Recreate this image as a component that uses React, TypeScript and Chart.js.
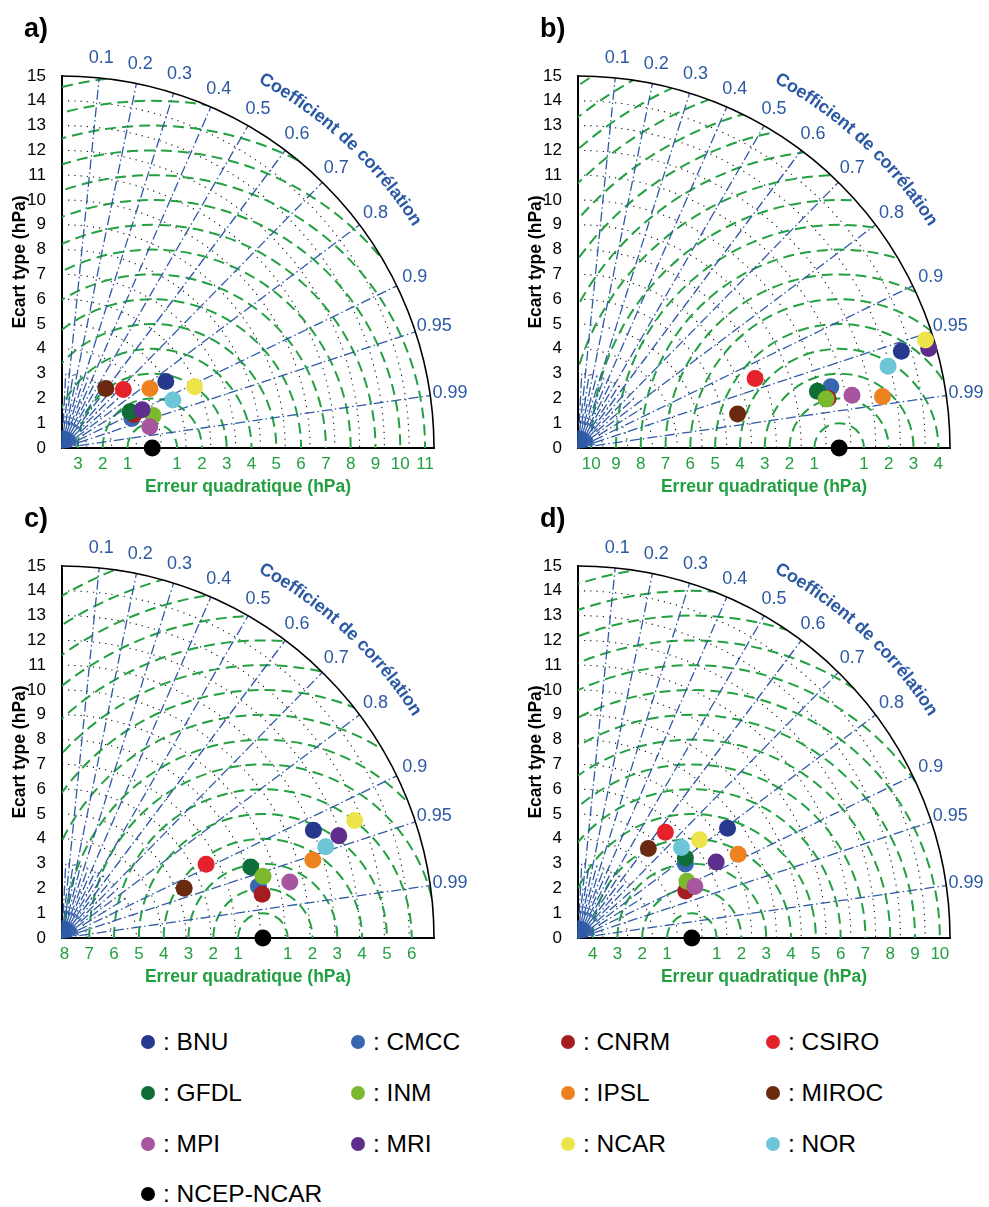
import React, { useEffect, useRef } from "react";
import { Chart, registerables } from "chart.js";

Chart.register(...registerables);
Chart.defaults.font.family = "'Liberation Sans', Arial, Helvetica, sans-serif";

// ---------- data ----------
const MODELS = ["BNU", "CMCC", "CNRM", "CSIRO", "GFDL", "INM", "IPSL", "MIROC", "MPI", "MRI", "NCAR", "NOR"];
const COLORS = ["#27398c", "#3767b1", "#a31d21", "#e5222b", "#0f6e38", "#7bb92f", "#ef8220", "#6b2a10", "#a8559f", "#5d2e8c", "#ece44a", "#6cc6d8"];
const REF_NAME = "NCEP-NCAR";
const REF_COLOR = "#000000";

const PANEL_LABELS = ["a)", "b)", "c)", "d)"];

// standard deviation (hPa) and correlation with NCEP-NCAR, per model
const STD_A = [4.97, 3.06, 3.20, 3.42, 3.11, 3.90, 4.28, 2.98, 3.64, 3.58, 5.89, 4.87];
const CORR_A = [0.842, 0.921, 0.907, 0.723, 0.882, 0.942, 0.828, 0.594, 0.972, 0.902, 0.908, 0.918];
const REF_STD_A = 3.64;

const STD_B = [13.61, 10.49, 10.28, 7.67, 9.92, 10.2, 12.45, 6.58, 11.25, 14.7, 14.67, 12.93];
const CORR_B = [0.958, 0.972, 0.981, 0.931, 0.973, 0.981, 0.986, 0.978, 0.982, 0.962, 0.955, 0.967];
const REF_STD_B = 10.53;

const STD_C = [11.03, 8.19, 8.26, 6.53, 8.13, 8.48, 10.59, 5.32, 9.46, 11.9, 12.72, 11.25];
const CORR_C = [0.919, 0.967, 0.977, 0.89, 0.936, 0.956, 0.955, 0.926, 0.971, 0.938, 0.928, 0.945];
const REF_STD_C = 8.1;

const STD_D = [7.48, 5.26, 4.74, 5.53, 5.4, 4.95, 7.29, 4.59, 5.15, 6.36, 6.3, 5.54];
const CORR_D = [0.806, 0.823, 0.917, 0.637, 0.802, 0.887, 0.886, 0.618, 0.915, 0.876, 0.778, 0.753];
const REF_STD_D = 4.59;

const PANEL_STD = [STD_A, STD_B, STD_C, STD_D];
const PANEL_CORR = [CORR_A, CORR_B, CORR_C, CORR_D];
const PANEL_REF = [REF_STD_A, REF_STD_B, REF_STD_C, REF_STD_D];

const STD_MAX = 15;
const CORR_TICKS = [0.1, 0.2, 0.3, 0.4, 0.5, 0.6, 0.7, 0.8, 0.9, 0.95, 0.99];
const CORR_MINOR = [0.05, 0.15, 0.25, 0.35, 0.45, 0.55, 0.65, 0.75, 0.85];

const Y_TITLE = "Ecart type (hPa)";
const X_TITLE = "Erreur quadratique (hPa)";
const CORR_TITLE = "Coefficient de corrélation";

// ---------- styles ----------
const GREEN = "#23a041";
const GREEN_TEXT = "#22a03f";
const BLUE = "#2f5aa6";
const BLUE_TEXT = "#2c59a4";
const FONT = "'Liberation Sans', Arial, Helvetica, sans-serif";

function drawArcText(ctx: CanvasRenderingContext2D, text: string, cx: number, cy: number, radius: number, centerAngle: number) {
  const total = ctx.measureText(text).width;
  let a = centerAngle + total / 2 / radius;
  for (const ch of text) {
    const w = ctx.measureText(ch).width;
    const ca = a - w / 2 / radius;
    ctx.save();
    ctx.translate(cx + radius * Math.cos(ca), cy - radius * Math.sin(ca));
    ctx.rotate(Math.PI / 2 - ca);
    ctx.fillText(ch, 0, 0);
    ctx.restore();
    a -= w / radius;
  }
}

function makeTaylorPlugin(panelLabel: string, refStd: number) {
  return {
    id: "taylor",
    beforeDatasetsDraw(chart: any) {
      const { ctx } = chart;
      const x = chart.scales.x;
      const y = chart.scales.y;
      const ox = x.getPixelForValue(0);
      const oy = y.getPixelForValue(0);
      const u = x.getPixelForValue(1) - ox;
      const R = STD_MAX * u;
      const P = (r: number, th: number) => [x.getPixelForValue(r * Math.cos(th)), y.getPixelForValue(r * Math.sin(th))];

      ctx.save();
      ctx.strokeStyle = "#111";
      ctx.lineWidth = 1.1;
      ctx.setLineDash([1.2, 5]);
      for (let s = 1; s < STD_MAX; s++) {
        ctx.beginPath();
        ctx.arc(ox, oy, s * u, -Math.PI / 2, 0);
        ctx.stroke();
      }

      ctx.save();
      ctx.beginPath();
      ctx.moveTo(ox, oy);
      ctx.arc(ox, oy, R, -Math.PI / 2, 0);
      ctx.closePath();
      ctx.clip();
      const rx = x.getPixelForValue(refStd);
      ctx.strokeStyle = GREEN;
      ctx.lineWidth = 2;
      ctx.setLineDash([11, 6]);
      for (let k = 1; k <= 20; k++) {
        ctx.beginPath();
        ctx.arc(rx, oy, k * u, Math.PI, 2 * Math.PI);
        ctx.stroke();
      }
      ctx.restore();

      ctx.strokeStyle = BLUE;
      ctx.lineWidth = 1.3;
      ctx.setLineDash([10, 3, 1.5, 3]);
      for (const c of CORR_TICKS) {
        const th = Math.acos(c);
        const [x1, y1] = P(STD_MAX, th);
        ctx.beginPath();
        ctx.moveTo(ox, oy);
        ctx.lineTo(x1, y1);
        ctx.stroke();
      }
      for (const c of CORR_MINOR) {
        const th = Math.acos(c);
        const [x0, y0] = P(1, th);
        const [x1, y1] = P(3, th);
        ctx.beginPath();
        ctx.moveTo(x0, y0);
        ctx.lineTo(x1, y1);
        ctx.stroke();
      }
      ctx.setLineDash([]);
      ctx.lineWidth = 1;
      for (let c = 0; c < 1; c += 0.02) {
        const th = Math.acos(c);
        const [x1, y1] = P(0.7, th);
        ctx.beginPath();
        ctx.moveTo(ox, oy);
        ctx.lineTo(x1, y1);
        ctx.stroke();
      }
      ctx.setLineDash([1, 3]);
      ctx.beginPath();
      ctx.arc(ox, oy, 1 * u, -Math.PI / 2, 0);
      ctx.stroke();

      ctx.setLineDash([]);
      ctx.strokeStyle = "#000";
      ctx.lineWidth = 1.6;
      ctx.beginPath();
      ctx.arc(ox, oy, R, -Math.PI / 2, 0);
      ctx.stroke();

      ctx.fillStyle = BLUE_TEXT;
      ctx.font = `18px ${FONT}`;
      ctx.textAlign = "center";
      ctx.textBaseline = "middle";
      for (const c of CORR_TICKS) {
        const [lx, ly] = P(15.8, Math.acos(c));
        ctx.fillText(String(c), lx, ly);
      }
      ctx.font = `bold 18px ${FONT}`;
      drawArcText(ctx, CORR_TITLE, ox, oy, 16.93 * u, (47 * Math.PI) / 180);

      ctx.fillStyle = "#000";
      ctx.font = `bold 27px ${FONT}`;
      ctx.textAlign = "left";
      ctx.textBaseline = "alphabetic";
      ctx.fillText(panelLabel, 24, 37);
      ctx.restore();
    },
  };
}

type PanelProps = { index: number; left: number; top: number; width: number; height: number };

function TaylorPanel({ index, left, top, width, height }: PanelProps) {
  const ref = useRef<HTMLCanvasElement | null>(null);
  useEffect(() => {
    const canvas = ref.current;
    if (!canvas) return;
    const std = PANEL_STD[index];
    const corr = PANEL_CORR[index];
    const refStd = PANEL_REF[index];
    const rmsTicks: number[] = [];
    for (let k = -20; k <= 20; k++) {
      const v = refStd + k;
      if (k !== 0 && v >= 0 && v <= STD_MAX) rmsTicks.push(v);
    }
    const datasets: any[] = MODELS.map((m, i) => ({
      label: m,
      data: [{ x: std[i] * corr[i], y: std[i] * Math.sqrt(1 - corr[i] * corr[i]) }],
      backgroundColor: COLORS[i],
      borderWidth: 0,
      pointRadius: 8.5,
      pointHoverRadius: 8.5,
      order: MODELS.length - i + 1,
      clip: false,
    }));
    datasets.push({
      label: REF_NAME,
      data: [{ x: refStd, y: 0 }],
      backgroundColor: REF_COLOR,
      borderWidth: 0,
      pointRadius: 8.5,
      pointHoverRadius: 8.5,
      order: 0,
      clip: false,
    });
    const chartBottom = 448;
    const chart = new Chart(canvas, {
      type: "scatter",
      data: { datasets },
      options: {
        animation: false,
        responsive: false,
        devicePixelRatio: 1,
        events: [],
        layout: { padding: { top: 76, right: width - 62 - 372, left: 0, bottom: 0 } },
        plugins: { legend: { display: false }, tooltip: { enabled: false } },
        scales: {
          x: {
            type: "linear",
            min: 0,
            max: STD_MAX,
            grid: { display: false },
            border: { display: true, color: "#000", width: 2 },
            afterBuildTicks: (s: any) => {
              s.ticks = rmsTicks.map((v) => ({ value: v }));
            },
            afterFit: (s: any) => {
              s.height = height - chartBottom;
            },
            ticks: {
              autoSkip: false,
              maxRotation: 0,
              color: GREEN_TEXT,
              font: { size: 17 },
              padding: -2,
              callback: (v: any) => String(Math.round(Math.abs(Number(v) - refStd))),
            },
            title: { display: true, text: X_TITLE, color: GREEN_TEXT, font: { size: 17.5, weight: "bold" }, padding: { top: 0, bottom: 2 } },
          },
          y: {
            type: "linear",
            min: 0,
            max: STD_MAX,
            grid: { display: false },
            border: { display: true, color: "#000", width: 2 },
            afterFit: (s: any) => {
              s.width = 62;
            },
            ticks: { stepSize: 1, color: "#000", font: { size: 17 }, padding: 8 },
            title: { display: true, text: Y_TITLE, color: "#000", font: { size: 17.5, weight: "bold" }, padding: { top: 10, bottom: 0 } },
          },
        },
      },
      plugins: [makeTaylorPlugin(PANEL_LABELS[index], refStd)],
    } as any);
    return () => chart.destroy();
  }, [index, width, height]);
  return <canvas ref={ref} width={width} height={height} style={{ position: "absolute", left, top, width, height }} />;
}

const LEGEND_COLS = [148, 358, 568, 773];
const LEGEND_ROWS = [1042, 1093, 1144, 1194];

export default function App() {
  const names = [...MODELS, REF_NAME];
  const colors = [...COLORS, REF_COLOR];
  return (
    <div style={{ position: "absolute", left: 0, top: 0, width: 989, height: 1207, background: "#fff", fontFamily: FONT }}>
      <TaylorPanel index={0} left={0} top={0} width={490} height={500} />
      <TaylorPanel index={1} left={516} top={0} width={473} height={500} />
      <TaylorPanel index={2} left={0} top={490} width={490} height={500} />
      <TaylorPanel index={3} left={516} top={490} width={473} height={500} />
      {names.map((n, i) => {
        const cx = LEGEND_COLS[i % 4];
        const cy = LEGEND_ROWS[Math.floor(i / 4)];
        return (
          <div key={n}>
            <div style={{ position: "absolute", left: cx - 7, top: cy - 7, width: 14, height: 14, borderRadius: "50%", background: colors[i] }} />
            <div style={{ position: "absolute", left: cx + 15, top: cy - 15, height: 30, lineHeight: "30px", fontSize: 24.5, color: "#000", whiteSpace: "nowrap" }}>
              {": " + n}
            </div>
          </div>
        );
      })}
    </div>
  );
}
